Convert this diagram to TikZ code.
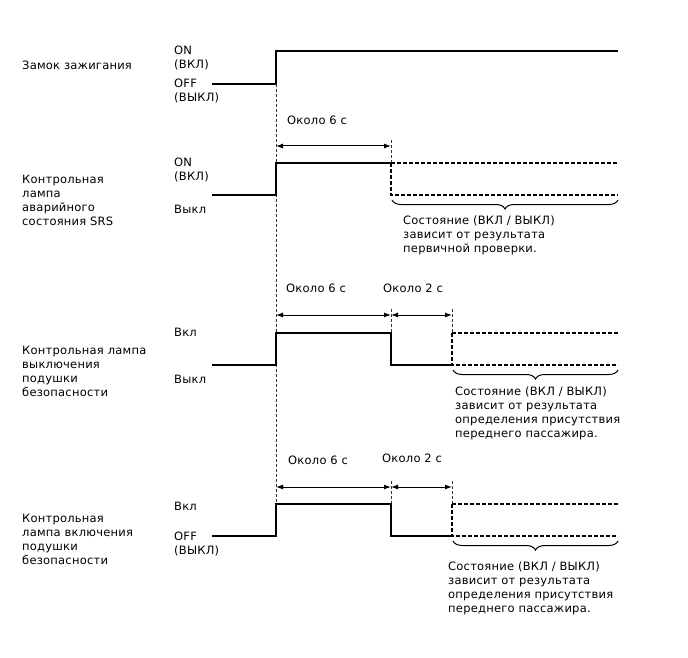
\documentclass[tikz,border=0pt]{standalone}
\usepackage{fontspec}
\setmainfont[LetterSpace=2]{DejaVu Sans}
\usetikzlibrary{arrows.meta,decorations.pathreplacing}
\begin{document}
\begin{tikzpicture}[x=1pt,y=-1pt,
  lbl/.style={anchor=west,inner sep=0pt,align=left,font=\fontsize{11.5}{14}\selectfont},
  sig/.style={line width=1.3pt},
  dsig/.style={line width=1.1pt,dash pattern=on 3.5pt off 2.5pt},
  guide/.style={line width=0.7pt,dash pattern=on 3pt off 2pt,draw=black!80},
  dim/.style={line width=1pt,{Latex[length=7pt,width=5pt]}-{Latex[length=7pt,width=5pt]}},
  brc/.style={line width=1pt,decorate,decoration={brace,amplitude=9pt,mirror}}]
\useasboundingbox (0,0) rectangle (688,658);
% ---------- labels ----------
\node[lbl] (t1) at (22,65) {Замок зажигания};
\node[lbl] (t1on) at (174,58) {ON\\(ВКЛ)};
\node[lbl] (t1off) at (174,90.5) {OFF\\(ВЫКЛ)};
\node[lbl] (t2) at (22,200) {Контрольная\\лампа\\аварийного\\состояния SRS};
\node[lbl] (t2on) at (174,170) {ON\\(ВКЛ)};
\node[lbl] (t2off) at (174,209) {Выкл};
\node[lbl] (t3) at (22,371) {Контрольная лампа\\выключения\\подушки\\безопасности};
\node[lbl] (t3on) at (174,332) {Вкл};
\node[lbl] (t3off) at (174,379) {Выкл};
\node[lbl] (t4) at (22,539) {Контрольная\\лампа включения\\подушки\\безопасности};
\node[lbl] (t4on) at (174,506) {Вкл};
\node[lbl] (t4off) at (174,544) {OFF\\(ВЫКЛ)};
% ---------- ignition ----------
\draw[sig] (212,84) -- (276,84) -- (276,51) -- (618,51);
% long guide
\draw[guide] (276,84) -- (276,536);
% ---------- SRS ----------
\node[lbl] (d2a) at (287,120) {Около 6 с};
\draw[dim] (276,146) -- (391,146);
\draw[guide] (391,140) -- (391,163);
\draw[sig] (212,195) -- (276,195) -- (276,163) -- (391,163);
\draw[dsig] (391,163) -- (618,163);
\draw[dsig] (391,163) -- (391,195) -- (618,195);
\draw[brc] (392,200) -- (618,200);
\node[lbl] (r2) at (403,235) {Состояние (ВКЛ / ВЫКЛ)\\зависит от результата\\первичной проверки.};
% ---------- section 3 ----------
\node[lbl] (d3a) at (286,288) {Около 6 с};
\node[lbl] (d3b) at (383,288) {Около 2 с};
\draw[dim] (276,315) -- (391,315);
\draw[dim] (391,315) -- (452,315);
\draw[guide] (391,309) -- (391,333);
\draw[guide] (452,309) -- (452,333);
\draw[sig] (212,365) -- (276,365) -- (276,333) -- (391,333) -- (391,365) -- (452,365);
\draw[dsig] (452,333) -- (618,333);
\draw[dsig] (452,333) -- (452,365) -- (618,365);
\draw[brc] (453,370) -- (618,370);
\node[lbl] (r3) at (455,413) {Состояние (ВКЛ / ВЫКЛ)\\зависит от результата\\определения присутствия\\переднего пассажира.};
% ---------- section 4 ----------
\node[lbl] (d4a) at (288,460) {Около 6 с};
\node[lbl] (d4b) at (382,458) {Около 2 с};
\draw[dim] (276,487) -- (391,487);
\draw[dim] (391,487) -- (452,487);
\draw[guide] (391,481) -- (391,504);
\draw[guide] (452,481) -- (452,504);
\draw[sig] (212,536) -- (276,536) -- (276,504) -- (391,504) -- (391,536) -- (452,536);
\draw[dsig] (452,504) -- (618,504);
\draw[dsig] (452,504) -- (452,536) -- (618,536);
\draw[brc] (453,541) -- (618,541);
\node[lbl] (r4) at (448,588) {Состояние (ВКЛ / ВЫКЛ)\\зависит от результата\\определения присутствия\\переднего пассажира.};
\end{tikzpicture}
\end{document}
